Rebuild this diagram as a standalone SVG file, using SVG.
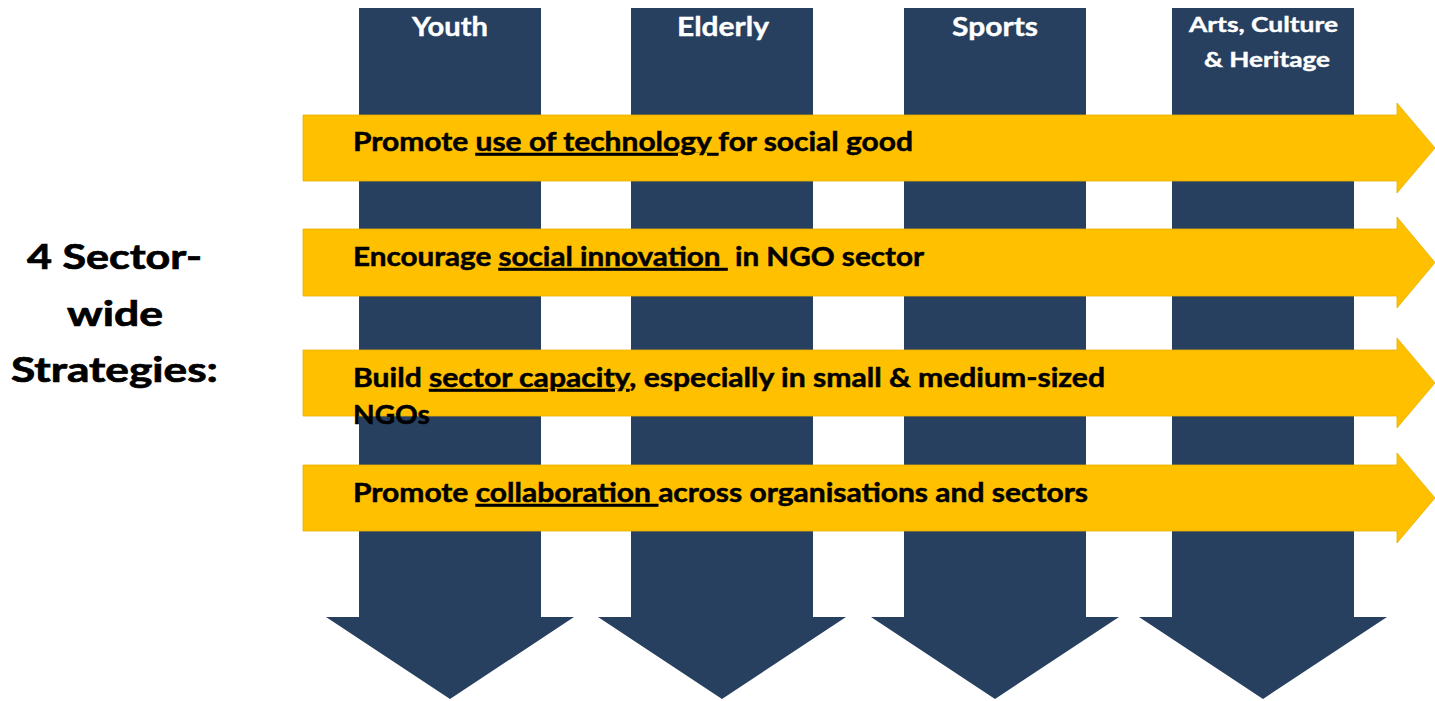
<svg xmlns="http://www.w3.org/2000/svg" width="1435" height="701" viewBox="0 0 1435 701">
<style>
.col{fill:#27405F}
.strat{fill:#FFC000;stroke:#E8B000;stroke-width:0.8}
.hdr{font-family:Lato,"Liberation Sans",sans-serif;font-weight:bold;fill:#FFFFFF;stroke:#FFFFFF;stroke-width:0.4}
.lbl{font-family:Lato,"Liberation Sans",sans-serif;font-weight:bold;fill:#000000;stroke:#000000;stroke-width:0.5;font-size:26.5px;white-space:pre}
.side{font-family:Lato,"Liberation Sans",sans-serif;font-weight:bold;fill:#000000;stroke:#000000;stroke-width:0.7;font-size:33.5px}
.u{text-decoration:underline}
</style>
<rect width="1435" height="701" fill="#FFFFFF"/>
<g id="youth">
<path class="col" d="M359,8 H541 V617 H574 L450,699 L326,617 H359 Z"/>
<text class="hdr" x="412" y="36" font-size="26.5" textLength="76" lengthAdjust="spacingAndGlyphs">Youth</text>
</g>
<g id="elderly">
<path class="col" d="M631,8 H813 V617 H846 L722,699 L598,617 H631 Z"/>
<text class="hdr" x="677" y="36" font-size="26.5" textLength="92" lengthAdjust="spacingAndGlyphs">Elderly</text>
</g>
<g id="sports">
<path class="col" d="M904,8 H1086 V617 H1119 L995,699 L871,617 H904 Z"/>
<text class="hdr" x="952" y="36" font-size="26.5" textLength="86" lengthAdjust="spacingAndGlyphs">Sports</text>
</g>
<g id="arts">
<path class="col" d="M1172,8 H1354 V617 H1387 L1263,699 L1139,617 H1172 Z"/>
<text class="hdr" x="1189" y="32" font-size="21" textLength="149" lengthAdjust="spacingAndGlyphs">Arts, Culture</text>
<text class="hdr" x="1204" y="67" font-size="21" textLength="126" lengthAdjust="spacingAndGlyphs">&amp; Heritage</text>
</g>
<g id="side-title">
<text class="side" x="27" y="269" textLength="175" lengthAdjust="spacingAndGlyphs">4 Sector-</text>
<text class="side" x="67" y="326" textLength="96" lengthAdjust="spacingAndGlyphs">wide</text>
<text class="side" x="11" y="382" textLength="207" lengthAdjust="spacingAndGlyphs">Strategies:</text>
</g>
<g id="s1">
<path class="strat" d="M303,115 H1397 V103 L1435,148 L1397,193 V181 H303 Z"/>
<text class="lbl" x="353" y="151" textLength="560" lengthAdjust="spacingAndGlyphs">Promote <tspan class="u">use of technology </tspan>for social good</text>
</g>
<g id="s2">
<path class="strat" d="M303,229 H1397 V217 L1435,262.5 L1397,308 V296 H303 Z"/>
<text class="lbl" x="353" y="266" textLength="571" lengthAdjust="spacingAndGlyphs">Encourage <tspan class="u">social innovation </tspan> in NGO sector</text>
</g>
<g id="s3">
<path class="strat" d="M303,350 H1397 V338 L1435,383 L1397,428 V416 H303 Z"/>
<text class="lbl" x="353" y="387" textLength="752" lengthAdjust="spacingAndGlyphs">Build <tspan class="u">sector capacity</tspan>, especially in small &amp; medium-sized</text>
<text class="lbl" x="353" y="424" textLength="77" lengthAdjust="spacingAndGlyphs">NGOs</text>
</g>
<g id="s4">
<path class="strat" d="M303,465 H1397 V453 L1435,498 L1397,543 V531 H303 Z"/>
<text class="lbl" x="353" y="502" textLength="735" lengthAdjust="spacingAndGlyphs">Promote <tspan class="u">collaboration </tspan>across organisations and sectors</text>
</g>
<g id="connectors"/>
</svg>
